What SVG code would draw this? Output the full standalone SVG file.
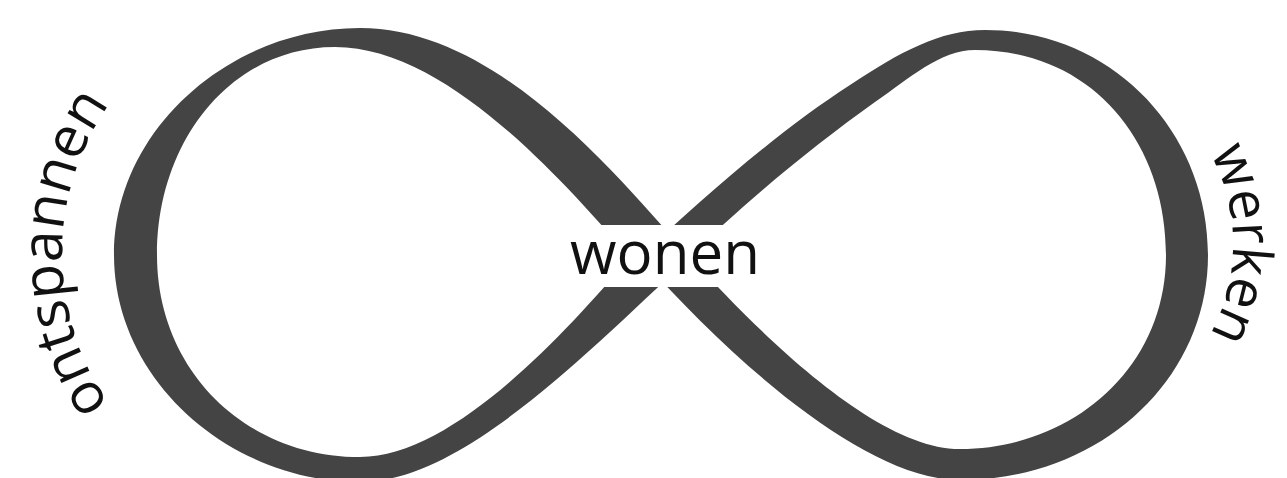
<svg xmlns="http://www.w3.org/2000/svg" xmlns:xlink="http://www.w3.org/1999/xlink" width="1287" height="478" viewBox="0 0 1287 478">
  <style>
    .band { fill: #444444; fill-rule: evenodd; }
    .lbl { font-family: "Open Sans", "Noto Sans", "Liberation Sans", sans-serif; fill: #111111; }
  </style>
  <defs>
    <path id="arcL" d="M 322,514 A 260 260 0 0 1 322,-6" />
    <path id="arcR" d="M 1135,79.5 A 187 187 0 0 1 1135,408.5" />
  </defs>
  <rect width="1287" height="478" fill="#ffffff"/>
  <g id="ribbon">
    <path id="loop-left" class="band" d="M 690,257 C 620,180 500,28 360,28 C 230,28 114,130 114,255 C 114,380 230,482 360,482 C 460,482 580,360 690,257 Z
      M 630,257 C 570,190 450,47 335,47 C 232,47 157,140 157,255 C 157,370 245,457 360,457 C 450,457 560,340 630,257 Z"/>
    <path id="loop-right" class="band" d="M 640,257 C 700,200 780,130 850,85 C 900,52 940,30 985,30 C 1110,30 1208,130 1208,255 C 1208,380 1100,480 960,480 C 870,480 740,370 640,257 Z
      M 690,257 C 730,215 810,148 875,102 C 910,78 940,50 975,50 C 1090,50 1166,140 1166,255 C 1166,370 1070,449 960,449 C 880,449 770,345 690,257 Z"/>
  </g>
  <g id="wonen">
    <rect x="560" y="225" width="210" height="62" fill="#ffffff"/>
    <text class="lbl" x="665" y="274" font-size="60" text-anchor="middle">wonen</text>
  </g>
  <g id="ontspannen">
    <text class="lbl" font-size="57" text-anchor="middle"><textPath xlink:href="#arcL" href="#arcL" startOffset="50%">ontspannen</textPath></text>
  </g>
  <g id="werken">
    <text class="lbl" font-size="55" text-anchor="middle"><textPath xlink:href="#arcR" href="#arcR" startOffset="50%">werken</textPath></text>
  </g>
</svg>
